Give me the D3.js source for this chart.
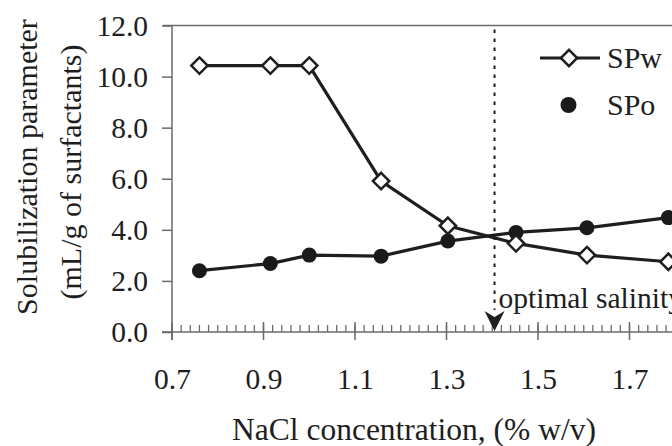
<!DOCTYPE html>
<html>
<head>
<meta charset="utf-8">
<script src="https://cdn.jsdelivr.net/npm/d3@7"></script>
<style>
  html, body { margin: 0; padding: 0; background: #fff; }
  svg { display: block; }
</style>
</head>
<body>
<svg id="chart" width="672" height="446"></svg>
<script>
// ---- data ----
const nacl = [0.76, 0.915, 1.0, 1.157, 1.303, 1.452, 1.607, 1.785];
const spw  = [10.43, 10.43, 10.43, 5.91, 4.16, 3.47, 3.01, 2.75];
const spo  = [2.40, 2.68, 3.01, 2.97, 3.56, 3.90, 4.08, 4.48];
const xTicks = [0.7, 0.9, 1.1, 1.3, 1.5, 1.7, 1.9];
const xTickLabels = ["0.7", "0.9", "1.1", "1.3", "1.5", "1.7"];
const yTicks = [0, 2, 4, 6, 8, 10, 12];
const optimalSalinity = 1.405;
const seriesNames = ["SPw", "SPo"];
const xTitle = "NaCl concentration, (% w/v)";
const yTitle = ["Solubilization parameter", "(mL/g of surfactants)"];

// ---- layout ----
const FONT = "'Liberation Serif', 'Times New Roman', serif";
const svg = d3.select("#chart").attr("font-family", FONT);
const x = d3.scaleLinear().domain([0.7, 1.9]).range([172, 721]);
const y = d3.scaleLinear().domain([0, 12]).range([332, 25.5]);
const ink = "#1e1e1e";
const axisCol = "#6a6a6a";

function txt(sel) { return sel.attr("font-family", FONT).attr("fill", ink); }

// frame: top border
svg.append("line").attr("x1", x(0.7) - 9).attr("x2", x(1.9)).attr("y1", y(12)).attr("y2", y(12))
  .attr("stroke", axisCol).attr("stroke-width", 1.5);
// y axis line
svg.append("line").attr("x1", x(0.7)).attr("x2", x(0.7)).attr("y1", y(12)).attr("y2", y(0) + 8)
  .attr("stroke", axisCol).attr("stroke-width", 1.5);
// x axis line
svg.append("line").attr("x1", x(0.7) - 10).attr("x2", x(1.9)).attr("y1", y(0)).attr("y2", y(0))
  .attr("stroke", axisCol).attr("stroke-width", 1.5);

// y axis ticks & labels
const yAxis = d3.axisLeft(y).tickValues(yTicks).tickSize(10).tickPadding(14).tickFormat(d3.format(".1f"));
const gy = svg.append("g").attr("transform", `translate(${x(0.7)},0)`).call(yAxis);
gy.attr("font-family", FONT);
gy.select(".domain").remove();
gy.selectAll(".tick line").attr("stroke", axisCol).attr("stroke-width", 1.5);
txt(gy.selectAll(".tick text")).attr("font-size", 29.5).attr("dy", "0.33em");

// x minor ticks (every 0.02)
const minor = d3.range(0, 61).map(i => 0.7 + i * 0.02);
svg.append("g").selectAll("line").data(minor).join("line")
  .attr("x1", d => x(d)).attr("x2", d => x(d))
  .attr("y1", y(0) - 7).attr("y2", y(0))
  .attr("stroke", axisCol).attr("stroke-width", 1.3);
// x major ticks (crossing)
svg.append("g").selectAll("line").data(xTicks).join("line")
  .attr("x1", d => x(d)).attr("x2", d => x(d))
  .attr("y1", y(0) - 10).attr("y2", y(0) + 8)
  .attr("stroke", axisCol).attr("stroke-width", 1.5);
// x labels via axis
const xAxis = d3.axisBottom(x).tickValues(xTickLabels.map(Number)).tickSize(0).tickPadding(0).tickFormat(d3.format(".1f"));
const gx = svg.append("g").attr("transform", `translate(0,${y(0)})`).call(xAxis);
gx.attr("font-family", FONT);
gx.select(".domain").remove();
txt(gx.selectAll(".tick text")).attr("font-size", 29.5).attr("dy", null).attr("y", 57);

// axis titles
txt(svg.append("text")).attr("x", 414).attr("y", 440).attr("text-anchor", "middle")
  .attr("font-size", 31.5).text(xTitle);
txt(svg.append("text")).attr("transform", "translate(37,167) rotate(-90)").attr("text-anchor", "middle")
  .attr("font-size", 30).text(yTitle[0]);
txt(svg.append("text")).attr("transform", "translate(81,172) rotate(-90)").attr("text-anchor", "middle")
  .attr("font-size", 30).text(yTitle[1]);

// optimal salinity marker
const xo = x(optimalSalinity);
svg.append("line").attr("x1", xo).attr("x2", xo).attr("y1", y(12) + 4).attr("y2", 310)
  .attr("stroke", ink).attr("stroke-width", 2).attr("stroke-dasharray", "3.5,5.5");
svg.append("path")
  .attr("d", `M${xo - 10},311 L${xo},331 L${xo + 10},311 L${xo},317 Z`)
  .attr("fill", ink);
txt(svg.append("text")).attr("x", xo + 4).attr("y", 308).attr("font-size", 29.5).text("optimal salinity");

// lines
const lineGen = d3.line().x(d => x(d[0])).y(d => y(d[1]));
const spoPts = nacl.map((v, i) => [v, spo[i]]);
const spwPts = nacl.map((v, i) => [v, spw[i]]);
svg.append("path").datum(spoPts).attr("d", lineGen).attr("fill", "none").attr("stroke", ink).attr("stroke-width", 3.2);
svg.append("path").datum(spwPts).attr("d", lineGen).attr("fill", "none").attr("stroke", ink).attr("stroke-width", 3.2);

// markers
svg.append("g").selectAll("circle").data(spoPts).join("circle")
  .attr("cx", d => x(d[0])).attr("cy", d => y(d[1])).attr("r", 7.5).attr("fill", "#1a1a1a");
const diamond = d3.symbol().type(d3.symbolDiamond2).size(170);
svg.append("g").selectAll("path").data(spwPts).join("path")
  .attr("transform", d => `translate(${x(d[0])},${y(d[1])})`)
  .attr("d", diamond).attr("fill", "#fff").attr("stroke", ink).attr("stroke-width", 2.5);

// legend
const lg = svg.append("g");
lg.append("line").attr("x1", 540).attr("x2", 600).attr("y1", 58).attr("y2", 58).attr("stroke", ink).attr("stroke-width", 3.2);
lg.append("path").attr("transform", "translate(569,58)").attr("d", diamond)
  .attr("fill", "#fff").attr("stroke", ink).attr("stroke-width", 2.5);
txt(lg.append("text")).attr("x", 607).attr("y", 68).attr("font-size", 30).text(seriesNames[0]);
lg.append("circle").attr("cx", 568.5).attr("cy", 105).attr("r", 8).attr("fill", "#1a1a1a");
txt(lg.append("text")).attr("x", 607).attr("y", 115).attr("font-size", 30).text(seriesNames[1]);
</script>
</body>
</html>
